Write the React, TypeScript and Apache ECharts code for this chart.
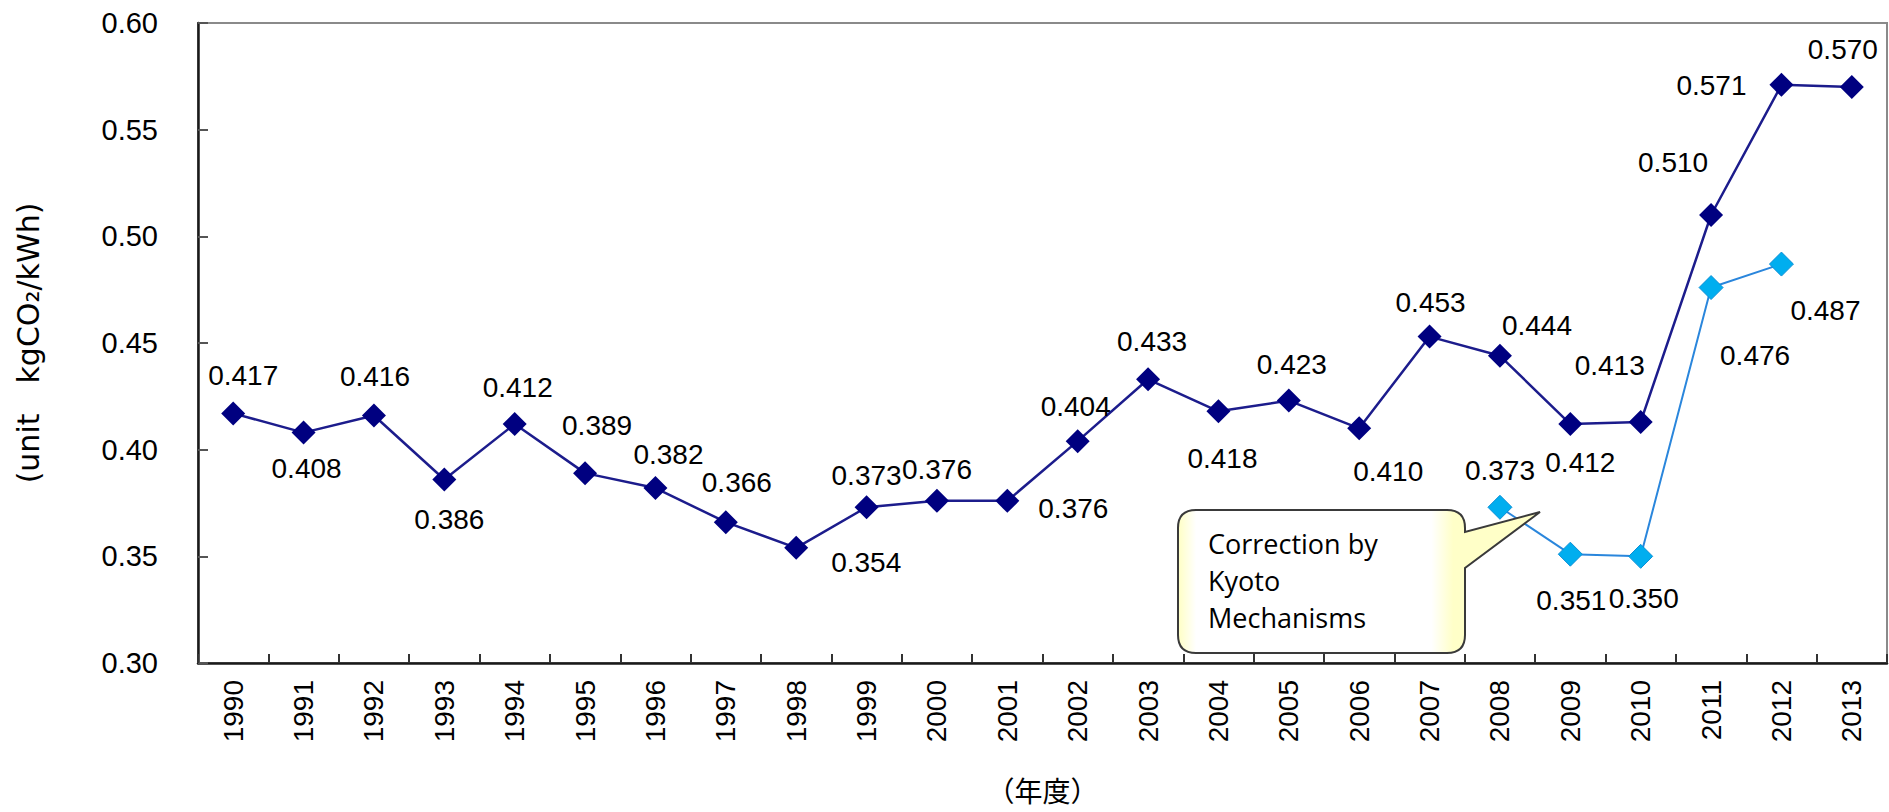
import React, { useEffect, useRef } from "react";
import * as echarts from "echarts";

const years = [
  "1990", "1991", "1992", "1993", "1994", "1995", "1996", "1997", "1998", "1999",
  "2000", "2001", "2002", "2003", "2004", "2005", "2006", "2007", "2008", "2009",
  "2010", "2011", "2012", "2013",
];

const emission = [
  0.417, 0.408, 0.416, 0.386, 0.412, 0.389, 0.382, 0.366, 0.354, 0.373,
  0.376, 0.376, 0.404, 0.433, 0.418, 0.423, 0.41, 0.453, 0.444, 0.412,
  0.413, 0.51, 0.571, 0.57,
];

const corrected: (number | null)[] = [
  null, null, null, null, null, null, null, null, null, null,
  null, null, null, null, null, null, null, null, 0.373, 0.351,
  0.35, 0.476, 0.487, null,
];

const yTicks = { min: 0.3, max: 0.6, interval: 0.05 };

// label placement (layout only)
const emissionLabelOffsets: [number, number][] = [
  [10, -38], [3, 36], [1, -39], [5, 40], [3, -37], [12, -48], [13, -34], [11, -40], [70, 15], [0, -32],
  [0, -31], [66, 8], [-2, -35], [4, -38], [4, 47], [3, -36], [29, 43], [1, -34], [37, -30], [10, 38],
  [-31, -56], [-38, -53], [-70, 1], [-9, -38],
];
const correctedLabelOffsets: [number, number][] = [
  [0, 0], [0, 0], [0, 0], [0, 0], [0, 0], [0, 0], [0, 0], [0, 0], [0, 0], [0, 0],
  [0, 0], [0, 0], [0, 0], [0, 0], [0, 0], [0, 0], [0, 0], [0, 0], [0, -37], [1, 46],
  [3, 42], [44, 68], [44, 46], [0, 0],
];

const calloutText = "Correction by\nKyoto\nMechanisms";
const yAxisTitle = "(unit\u3000kgCO\u2082/kWh)";
const xAxisTitle = "\uff08年度\uff09";

const CALLOUT_D =
  "M 1196 510 L 1447 510 Q 1465 510 1465 528 L 1465 532 L 1540 512 L 1465 568 L 1465 635 Q 1465 653 1447 653 L 1196 653 Q 1178 653 1178 635 L 1178 528 Q 1178 510 1196 510 Z";

let registered = false;
function ensureShape() {
  if (registered) return;
  echarts.graphic.registerShape("callout", echarts.graphic.extendPath(CALLOUT_D, {}));
  registered = true;
}

const NUM_FONT = "'Liberation Sans', sans-serif";

export default function App() {
  const ref = useRef<HTMLDivElement>(null);

  useEffect(() => {
    if (!ref.current) return;
    ensureShape();
    const chart = echarts.init(ref.current, undefined, { renderer: "svg" });

    const labelBase = {
      show: true,
      position: "inside" as const,
      color: "#000",
      fontSize: 28,
      fontFamily: NUM_FONT,
      formatter: (p: any) => Number(p.value).toFixed(3),
    };

    const option: any = {
      animation: false,
      backgroundColor: "#fff",
      grid: {
        left: 198,
        right: 2,
        top: 23,
        bottom: 149,
        show: true,
        borderColor: "#8a8a8a",
        borderWidth: 2,
        outerBoundsMode: "none",
      },
      xAxis: {
        type: "category",
        data: years,
        boundaryGap: true,
        name: xAxisTitle,
        nameLocation: "middle",
        nameGap: 113,
        nameTextStyle: {
          fontSize: 28,
          color: "#000",
          fontFamily: "'Noto Sans CJK JP', sans-serif",
        },
        axisLine: { show: true, lineStyle: { color: "#1a1a1a", width: 2.5 } },
        axisTick: { show: true, inside: true, length: 9, lineStyle: { color: "#333", width: 2 } },
        axisLabel: {
          rotate: 90,
          margin: 17,
          fontSize: 28,
          color: "#000",
          fontFamily: NUM_FONT,
          interval: 0,
        },
        splitLine: { show: false },
      },
      yAxis: {
        type: "value",
        min: yTicks.min,
        max: yTicks.max,
        interval: yTicks.interval,
        name: yAxisTitle,
        nameLocation: "middle",
        nameRotate: 90,
        nameGap: 155,
        nameTextStyle: {
          fontSize: 30,
          color: "#000",
          fontFamily: "'DejaVu Sans', sans-serif",
        },
        axisLine: { show: true, lineStyle: { color: "#1a1a1a", width: 2.5 } },
        axisTick: { show: true, inside: true, length: 10, lineStyle: { color: "#555", width: 2 } },
        axisLabel: {
          margin: 40,
          fontSize: 29,
          color: "#000",
          fontFamily: NUM_FONT,
          formatter: (v: number) => v.toFixed(2),
        },
        splitLine: { show: false },
      },
      series: [
        {
          type: "line",
          name: "emission",
          data: emission.map((v, i) => ({
            value: v,
            label: { ...labelBase, offset: emissionLabelOffsets[i] },
          })),
          symbol: "diamond",
          symbolSize: 24,
          itemStyle: { color: "#000080" },
          lineStyle: { color: "#1c1c8c", width: 2.5 },
          label: labelBase,
          z: 3,
        },
        {
          type: "line",
          name: "corrected",
          data: corrected.map((v, i) =>
            v === null
              ? null
              : {
                  value: v,
                  label: { ...labelBase, offset: correctedLabelOffsets[i] },
                }
          ),
          connectNulls: false,
          symbol: "diamond",
          symbolSize: 24,
          itemStyle: { color: "#00aeef", borderColor: "#0b8fd6", borderWidth: 1 },
          lineStyle: { color: "#2a86dc", width: 2 },
          label: labelBase,
          z: 4,
        },
      ],
      graphic: [
        {
          type: "callout",
          x: 0,
          y: 0,
          z: 10,
          style: {
            fill: new echarts.graphic.LinearGradient(0, 0, 1, 0, [
              { offset: 0, color: "#ffffc4" },
              { offset: 0.05, color: "#ffffff" },
              { offset: 0.7, color: "#ffffff" },
              { offset: 0.76, color: "#ffffc8" },
              { offset: 1, color: "#ffffc8" },
            ]),
            stroke: "#3a3a3a",
            lineWidth: 2,
          },
        },
        {
          type: "text",
          x: 1208,
          y: 525,
          z: 11,
          style: {
            text: calloutText,
            fontSize: 27,
            fontFamily: "'Open Sans', sans-serif",
            lineHeight: 37,
            fill: "#000",
            verticalAlign: "top",
            align: "left",
          },
        },
      ],
    };

    chart.setOption(option);
    return () => chart.dispose();
  }, []);

  return (
    <div
      ref={ref}
      style={{ position: "fixed", left: 0, top: 0, width: 1889, height: 812, background: "#fff" }}
    />
  );
}
